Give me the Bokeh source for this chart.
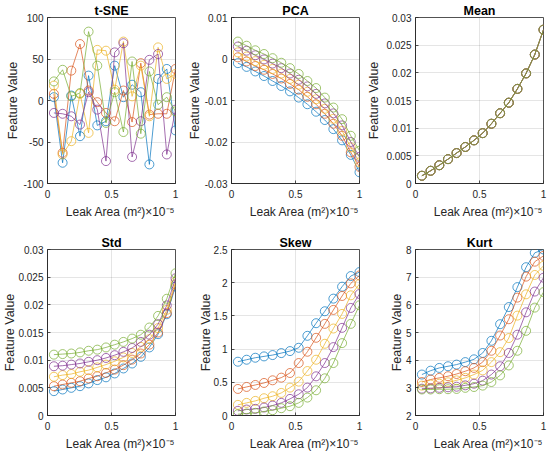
from bokeh.plotting import figure
from bokeh.layouts import column, row
from bokeh.models import Range1d, FixedTicker, CustomJSTickFormatter
from bokeh.embed import file_html
from bokeh.resources import INLINE

# ---------------- data ----------------
leak_area = [0.05, 0.118, 0.186, 0.254, 0.321, 0.389, 0.457, 0.525,
             0.593, 0.661, 0.729, 0.796, 0.864, 0.932, 1.0]
x_ticks = [0, 0.5, 1]
series_colors = ["#0072BD", "#D95319", "#EDB120", "#7E2F8E", "#77AC30"]

tsne_1 = [4, -75, 6, -43, 30, -30, -25, 42, 4, 19, 10, -77, 26, 38, -36]
tsne_2 = [8, -63, 36, 68, 12, -2, -15, -25, 12, -26, 45, -17, -16, -16, 38]
tsne_3 = [18, -65, -49, 8, -39, 61, 60, 13, 71, 5, 42, -19, 64, 26, 32]
tsne_4 = [-15, -16, -19, -29, 10, -11, -73, 58, 69, -68, -25, 49, 56, -65, -11]
tsne_5 = [23, 37, 5, 9, 83, 42, -27, 10, -38, 47, -40, 35, -5, 4, -13]
tsne_ticks = [-100, -50, 0, 50, 100]

pca_1 = [-0.0010, -0.0019, -0.0030, -0.0041, -0.0053, -0.0065, -0.0078, -0.0093,
         -0.0109, -0.0127, -0.0147, -0.0169, -0.0196, -0.0231, -0.0273]
pca_2 = [0.0004, -0.0006, -0.0017, -0.0026, -0.0036, -0.0047, -0.0060, -0.0074,
         -0.0091, -0.0109, -0.0132, -0.0156, -0.0185, -0.0225, -0.0260]
pca_3 = [0.0016, 0.0006, -0.0005, -0.0014, -0.0024, -0.0035, -0.0048, -0.0062,
         -0.0079, -0.0097, -0.0120, -0.0144, -0.0173, -0.0213, -0.0249]
pca_4 = [0.0030, 0.0020, 0.0009, -0.0001, -0.0011, -0.0022, -0.0035, -0.0050,
         -0.0066, -0.0084, -0.0107, -0.0131, -0.0160, -0.0200, -0.0236]
pca_5 = [0.0042, 0.0032, 0.0021, 0.0012, 0.0002, -0.0009, -0.0022, -0.0036,
         -0.0053, -0.0070, -0.0093, -0.0117, -0.0145, -0.0185, -0.0221]
pca_ticks = [-0.03, -0.02, -0.01, 0, 0.01]

mean_vals = [0.0014, 0.0023, 0.0033, 0.0044, 0.0055, 0.0066, 0.0078, 0.0091,
             0.0108, 0.0127, 0.0146, 0.0171, 0.0199, 0.0233, 0.0278]
mean_ticks = [0, 0.005, 0.01, 0.015, 0.02, 0.025, 0.03]

std_1 = [0.0044, 0.0047, 0.0050, 0.0053, 0.0058, 0.0064, 0.0069, 0.0076,
         0.0085, 0.0094, 0.0106, 0.0123, 0.0147, 0.0183, 0.0233]
std_2 = [0.0053, 0.0056, 0.0059, 0.0062, 0.0067, 0.0071, 0.0077, 0.0083,
         0.0091, 0.0101, 0.0112, 0.0128, 0.0150, 0.0185, 0.0237]
std_3 = [0.0070, 0.0073, 0.0075, 0.0079, 0.0082, 0.0087, 0.0092, 0.0098,
         0.0105, 0.0113, 0.0124, 0.0138, 0.0158, 0.0191, 0.0242]
std_4 = [0.0089, 0.0090, 0.0092, 0.0094, 0.0097, 0.0100, 0.0104, 0.0109,
         0.0115, 0.0122, 0.0133, 0.0146, 0.0165, 0.0199, 0.0248]
std_5 = [0.0110, 0.0111, 0.0112, 0.0114, 0.0117, 0.0119, 0.0123, 0.0128,
         0.0133, 0.0139, 0.0146, 0.0159, 0.0180, 0.0211, 0.0257]
std_ticks = [0, 0.005, 0.01, 0.015, 0.02, 0.025, 0.03]

skew_1 = [0.81, 0.84, 0.87, 0.89, 0.91, 0.94, 0.97, 1.02, 1.20, 1.39, 1.57, 1.76, 1.94, 2.10, 2.16]
skew_2 = [0.40, 0.43, 0.46, 0.49, 0.53, 0.57, 0.64, 0.79, 0.96, 1.17, 1.38, 1.59, 1.80, 1.99, 2.11]
skew_3 = [0.16, 0.19, 0.22, 0.26, 0.29, 0.34, 0.42, 0.51, 0.67, 0.84, 1.08, 1.31, 1.53, 1.81, 1.98]
skew_4 = [0.07, 0.09, 0.10, 0.12, 0.15, 0.19, 0.25, 0.32, 0.42, 0.59, 0.79, 1.03, 1.32, 1.62, 1.83]
skew_5 = [0.02, 0.03, 0.04, 0.06, 0.08, 0.11, 0.14, 0.19, 0.27, 0.38, 0.56, 0.79, 1.09, 1.38, 1.66]
skew_ticks = [0, 0.5, 1, 1.5, 2, 2.5]

kurt_1 = [3.48, 3.62, 3.72, 3.78, 3.84, 3.93, 4.03, 4.26, 4.70, 5.30, 5.92, 6.64, 7.36, 7.88, 8.00]
kurt_2 = [3.21, 3.30, 3.36, 3.42, 3.50, 3.60, 3.72, 3.93, 4.34, 4.89, 5.48, 6.26, 7.02, 7.56, 7.77]
kurt_3 = [3.08, 3.12, 3.15, 3.20, 3.27, 3.36, 3.48, 3.63, 3.93, 4.29, 4.80, 5.61, 6.38, 7.08, 7.41]
kurt_4 = [2.97, 2.98, 3.00, 3.02, 3.04, 3.09, 3.15, 3.26, 3.48, 3.78, 4.26, 4.92, 5.73, 6.48, 6.98]
kurt_5 = [2.94, 2.94, 2.95, 2.95, 2.96, 3.00, 3.03, 3.08, 3.21, 3.45, 3.81, 4.34, 5.06, 5.90, 6.46]
kurt_ticks = [2, 3, 4, 5, 6, 7, 8]

x_label = "\u2003\u2002Leak Area (m²)×10⁻⁵"
y_label = "Feature Value"

# ---------------- styling ----------------
FONT = "Liberation Sans"
INK = "#262626"
FRAME_W, FRAME_H = 128, 166

fmt_code = "return String(Math.round(tick * 1e6) / 1e6);"


def panel(title, series, ticks, left, right, bottom, ylab_standoff):
    p = figure(frame_width=FRAME_W, frame_height=FRAME_H,
               output_backend="svg", toolbar_location=None,
               x_range=Range1d(0, 1), y_range=Range1d(ticks[0], ticks[-1]),
               min_border_left=left, min_border_right=right,
               min_border_top=17, min_border_bottom=bottom,
               background_fill_color="white", border_fill_color="white",
               outline_line_color=INK, outline_line_width=0.8, outline_line_alpha=1.0)
    p.title.text = title
    p.title.align = "center"
    p.title.text_font = FONT
    p.title.text_font_size = "12.5px"
    p.title.text_font_style = "bold"
    p.title.text_color = "#000000"
    p.title.standoff = 0

    p.xaxis.ticker = FixedTicker(ticks=x_ticks)
    p.yaxis.ticker = FixedTicker(ticks=ticks)
    p.xaxis.axis_label = x_label
    p.yaxis.axis_label = y_label
    p.yaxis.axis_label_standoff = ylab_standoff
    p.xaxis.axis_label_standoff = 4
    p.xaxis.major_label_standoff = 6
    p.yaxis.major_label_standoff = 4
    for ax in (p.xaxis[0], p.yaxis[0]):
        ax.formatter = CustomJSTickFormatter(code=fmt_code)
        ax.major_tick_in = 3
        ax.major_tick_out = 0
        ax.minor_tick_in = 0
        ax.minor_tick_out = 0
        ax.axis_line_color = INK
        ax.axis_line_width = 0.8
        ax.major_tick_line_color = INK
        ax.major_tick_line_width = 0.8
        ax.major_label_text_font = FONT
        ax.major_label_text_font_size = "10px"
        ax.major_label_text_color = INK
        ax.axis_label_text_font = FONT
        ax.axis_label_text_font_size = "12px"
        ax.axis_label_text_font_style = "normal"
        ax.axis_label_text_color = INK
    p.yaxis.axis_label_text_font_size = "12.5px"
    p.grid.grid_line_color = INK
    p.grid.grid_line_alpha = 0.15
    p.grid.grid_line_width = 0.8

    for vals, c in zip(series, series_colors):
        p.line(leak_area, vals, line_color=c, line_width=0.7)
        p.scatter(leak_area, vals, marker="circle", size=9,
                  fill_color=None, line_color=c, line_width=0.7)
    return p


p1 = panel("t-SNE", [tsne_1, tsne_2, tsne_3, tsne_4, tsne_5], tsne_ticks, 47, 4, 49, 0)
p2 = panel("PCA", [pca_1, pca_2, pca_3, pca_4, pca_5], pca_ticks, 52, 4, 49, 0)
p3 = panel("Mean", [mean_vals] * 5, mean_ticks, 52, 5, 49, 2)
p4 = panel("Std", [std_1, std_2, std_3, std_4, std_5], std_ticks, 47, 4, 38, -2)
p5 = panel("Skew", [skew_1, skew_2, skew_3, skew_4, skew_5], skew_ticks, 52, 4, 38, -2)
p6 = panel("Kurt", [kurt_1, kurt_2, kurt_3, kurt_4, kurt_5], kurt_ticks, 52, 5, 38, -1)

layout = column(row(p1, p2, p3, spacing=0), row(p4, p5, p6, spacing=0), spacing=0)

open("out.html", "w").write(file_html(layout, INLINE))
